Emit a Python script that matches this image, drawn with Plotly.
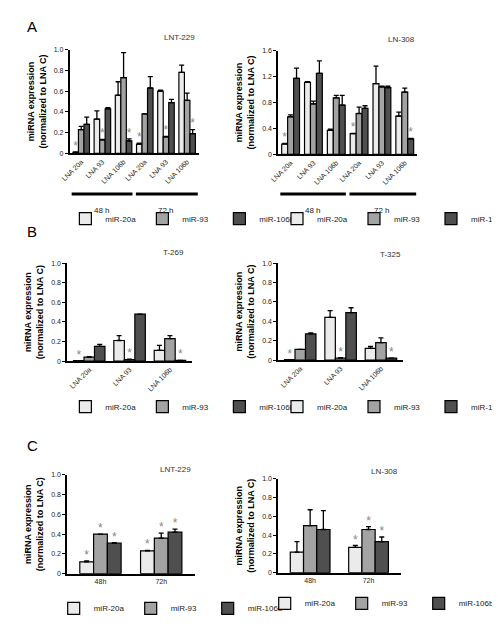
import plotly.graph_objects as go

SERIES = ["miR-20a", "miR-93", "miR-106b"]
COLORS = ["#ebebeb", "#a3a3a3", "#4f4f4f"]

# Panel A
A_CATS = ["LNA 20a", "LNA 93", "LNA 106b", "LNA 20a", "LNA 93", "LNA 106b"]
A1_VALS = [[0.01, 0.33, 0.56, 0.09, 0.60, 0.78],
           [0.23, 0.13, 0.73, 0.38, 0.16, 0.51],
           [0.28, 0.43, 0.12, 0.63, 0.49, 0.19]]
A1_ERR = [[0.005, 0.08, 0.13, 0.01, 0.01, 0.07],
          [0.03, 0.005, 0.24, 0.0, 0.005, 0.07],
          [0.07, 0.01, 0.02, 0.11, 0.03, 0.04]]
A1_STAR = [[1, 0, 0, 1, 0, 0], [0, 1, 0, 0, 1, 0], [0, 0, 1, 0, 0, 1]]
A2_VALS = [[0.16, 1.11, 0.37, 0.32, 1.09, 0.59],
           [0.58, 0.78, 0.87, 0.63, 1.04, 0.96],
           [1.17, 1.25, 0.76, 0.71, 1.03, 0.24]]
A2_ERR = [[0.01, 0.01, 0.02, 0.005, 0.27, 0.06],
          [0.03, 0.04, 0.04, 0.10, 0.01, 0.06],
          [0.16, 0.19, 0.15, 0.04, 0.02, 0.005]]
A2_STAR = [[1, 0, 0, 1, 0, 0], [0, 0, 0, 0, 0, 0], [0, 0, 0, 0, 0, 1]]

# Panel B
B_CATS = ["LNA 20a", "LNA 93", "LNA 106b"]
B1_VALS = [[0.005, 0.21, 0.11], [0.04, 0.015, 0.23], [0.15, 0.48, 0.008]]
B1_ERR = [[0.0, 0.05, 0.05], [0.005, 0.005, 0.03], [0.02, 0.0, 0.0]]
B2_VALS = [[0.005, 0.44, 0.12], [0.11, 0.02, 0.18], [0.27, 0.49, 0.02]]
B2_ERR = [[0.0, 0.07, 0.02], [0.0, 0.005, 0.05], [0.01, 0.05, 0.0]]
B_STAR = [[1, 0, 0], [0, 1, 0], [0, 0, 1]]

# Panel C
C_CATS = ["48h", "72h"]
C1_VALS = [[0.12, 0.23], [0.40, 0.36], [0.31, 0.42]]
C1_ERR = [[0.01, 0.005], [0.0, 0.05], [0.005, 0.03]]
C1_STAR = [[1, 1], [1, 1], [1, 1]]
C2_VALS = [[0.22, 0.27], [0.50, 0.46], [0.46, 0.33]]
C2_ERR = [[0.11, 0.02], [0.17, 0.03], [0.20, 0.05]]
C2_STAR = [[0, 1], [0, 1], [0, 1]]

TICKS_1 = [0, 0.2, 0.4, 0.6, 0.8, 1.0]
TICKTEXT_1 = ["0", "0.2", "0.4", "0.6", "0.8", "1.0"]
TICKS_16 = [0, 0.4, 0.8, 1.2, 1.6]
TICKTEXT_16 = ["0", "0.4", "0.8", "1.2", "1.6"]

FONT = "Liberation Sans, Arial, sans-serif"
W, H = 500, 629
GAP = 0.22

panels = [
    (1, A_CATS, A1_VALS, A1_ERR, A1_STAR, (63, 218), (143, 38), 1.0, TICKS_1, TICKTEXT_1, "LNT-229", (216, 26), (58, 209), -45, 0.22),
    (2, A_CATS, A2_VALS, A2_ERR, A2_STAR, (313, 480), (144, 39), 1.6, TICKS_16, TICKTEXT_16, "LN-308", (480, 28), (312, 209), -45, 0.22),
    (3, B_CATS, B1_VALS, B1_ERR, B_STAR, (60, 210), (353, 254), 1.0, TICKS_1, TICKTEXT_1, "T-269", (203, 243), (58, 399), -45, 0.22),
    (4, B_CATS, B2_VALS, B2_ERR, B_STAR, (313, 463), (352, 254), 1.0, TICKS_1, TICKTEXT_1, "T-325", (463, 245), (312, 399), -45, 0.22),
    (5, C_CATS, C1_VALS, C1_ERR, C1_STAR, (60, 213), (568, 468), 1.0, TICKS_1, TICKTEXT_1, "LNT-229", (211, 463), (44, 603), 0, 0.32),
    (6, C_CATS, C2_VALS, C2_ERR, C2_STAR, (313, 460), (567, 472), 1.0, TICKS_1, TICKTEXT_1, "LN-308", (459, 465), (297, 598), 0, 0.32),
]

fig = go.Figure()
layout = dict(width=W, height=H, margin=dict(l=0, r=0, t=0, b=0),
              paper_bgcolor="white", plot_bgcolor="white",
              barmode="overlay",
              font=dict(family=FONT, size=9, color="black"),
              showlegend=True)
annotations = []
shapes = []

for (n, cats, vals, err, star, xd, yd, ymax, tv, tt, title, tpos, lpos, ang, gap) in panels:
    xa = "x" if n == 1 else f"x{n}"
    ya = "y" if n == 1 else f"y{n}"
    lg = "legend" if n == 1 else f"legend{n}"
    idx = list(range(len(cats)))
    bw = (1 - gap) / 3
    for i, s in enumerate(SERIES):
        xs = [j + (i - 1) * bw for j in idx]
        fig.add_trace(go.Bar(
            x=xs, y=vals[i], name=s, xaxis=xa, yaxis=ya, legend=lg, width=bw,
            marker=dict(color=COLORS[i], line=dict(color="black", width=1.2)),
            error_y=dict(type="data", array=err[i], arrayminus=[0] * len(err[i]),
                         symmetric=False, color="black", thickness=1.3, width=2.5),
        ))
        sx = [xs[j] for j in idx if star[i][j]]
        sy = [vals[i][j] + err[i][j] + 0.05 * ymax for j in idx if star[i][j]]
        if sx:
            fig.add_trace(go.Scatter(
                x=sx, y=sy, mode="text", text=["*"] * len(sx), xaxis=xa, yaxis=ya,
                textposition="middle center",
                textfont=dict(color="#888888", size=12), showlegend=False, hoverinfo="skip"))
    xkey = "xaxis" if n == 1 else f"xaxis{n}"
    ykey = "yaxis" if n == 1 else f"yaxis{n}"
    layout[xkey] = dict(domain=[xd[0] / W, xd[1] / W], anchor=ya,
                        range=[-0.55, len(cats) - 0.45],
                        tickvals=idx, ticktext=cats,
                        showline=True, linecolor="black", linewidth=1.5,
                        ticks="", tickangle=ang, showgrid=False, zeroline=False,
                        tickfont=dict(size=7, color="#222"))
    layout[ykey] = dict(domain=[1 - yd[0] / H, 1 - yd[1] / H], anchor=xa,
                        range=[0, ymax], showline=True, linecolor="black", linewidth=1.5,
                        ticks="outside", ticklen=3, tickcolor="black",
                        tickvals=tv, ticktext=tt, showgrid=False, zeroline=False,
                        tickfont=dict(size=7, family=FONT, color="#222"),
                        title=dict(text="<b>miRNA expression<br>(normalized to LNA C)</b>",
                                   font=dict(size=9), standoff=6))
    annotations.append(dict(text=title, x=tpos[0] / W, y=1 - tpos[1] / H, xref="paper", yref="paper",
                            xanchor="right", yanchor="middle", showarrow=False,
                            font=dict(size=8, color="#333")))
    layout[lg] = dict(orientation="h", x=lpos[0] / W, y=1 - lpos[1] / H,
                      xanchor="left", yanchor="middle", font=dict(size=8, color="#222"),
                      bgcolor="rgba(0,0,0,0)", entrywidth=32, entrywidthmode="pixels",
                      itemwidth=30, tracegroupgap=0)
    if n in (1, 2):
        for (x0, x1, lab, xc) in [(-0.45, 2.42, "48 h", 1), (2.58, 5.5, "72 h", 4)]:
            shapes.append(dict(type="line", xref=xa, yref="paper", x0=x0, x1=x1,
                               y0=1 - 184 / H, y1=1 - 184 / H, line=dict(color="black", width=3)))
            annotations.append(dict(text=lab, x=xc, y=1 - 194 / H, xref=xa, yref="paper",
                                    showarrow=False, font=dict(size=8, color="#222")))

for lab, px, py in [("A", 10, 15), ("B", 10, 222), ("C", 10, 438)]:
    annotations.append(dict(text=lab, x=px / W, y=1 - py / H, xref="paper", yref="paper",
                            xanchor="left", yanchor="middle", showarrow=False,
                            font=dict(size=15, color="black")))

layout["annotations"] = annotations
layout["shapes"] = shapes
fig.update_layout(**layout)
fig.write_html("out.html")
